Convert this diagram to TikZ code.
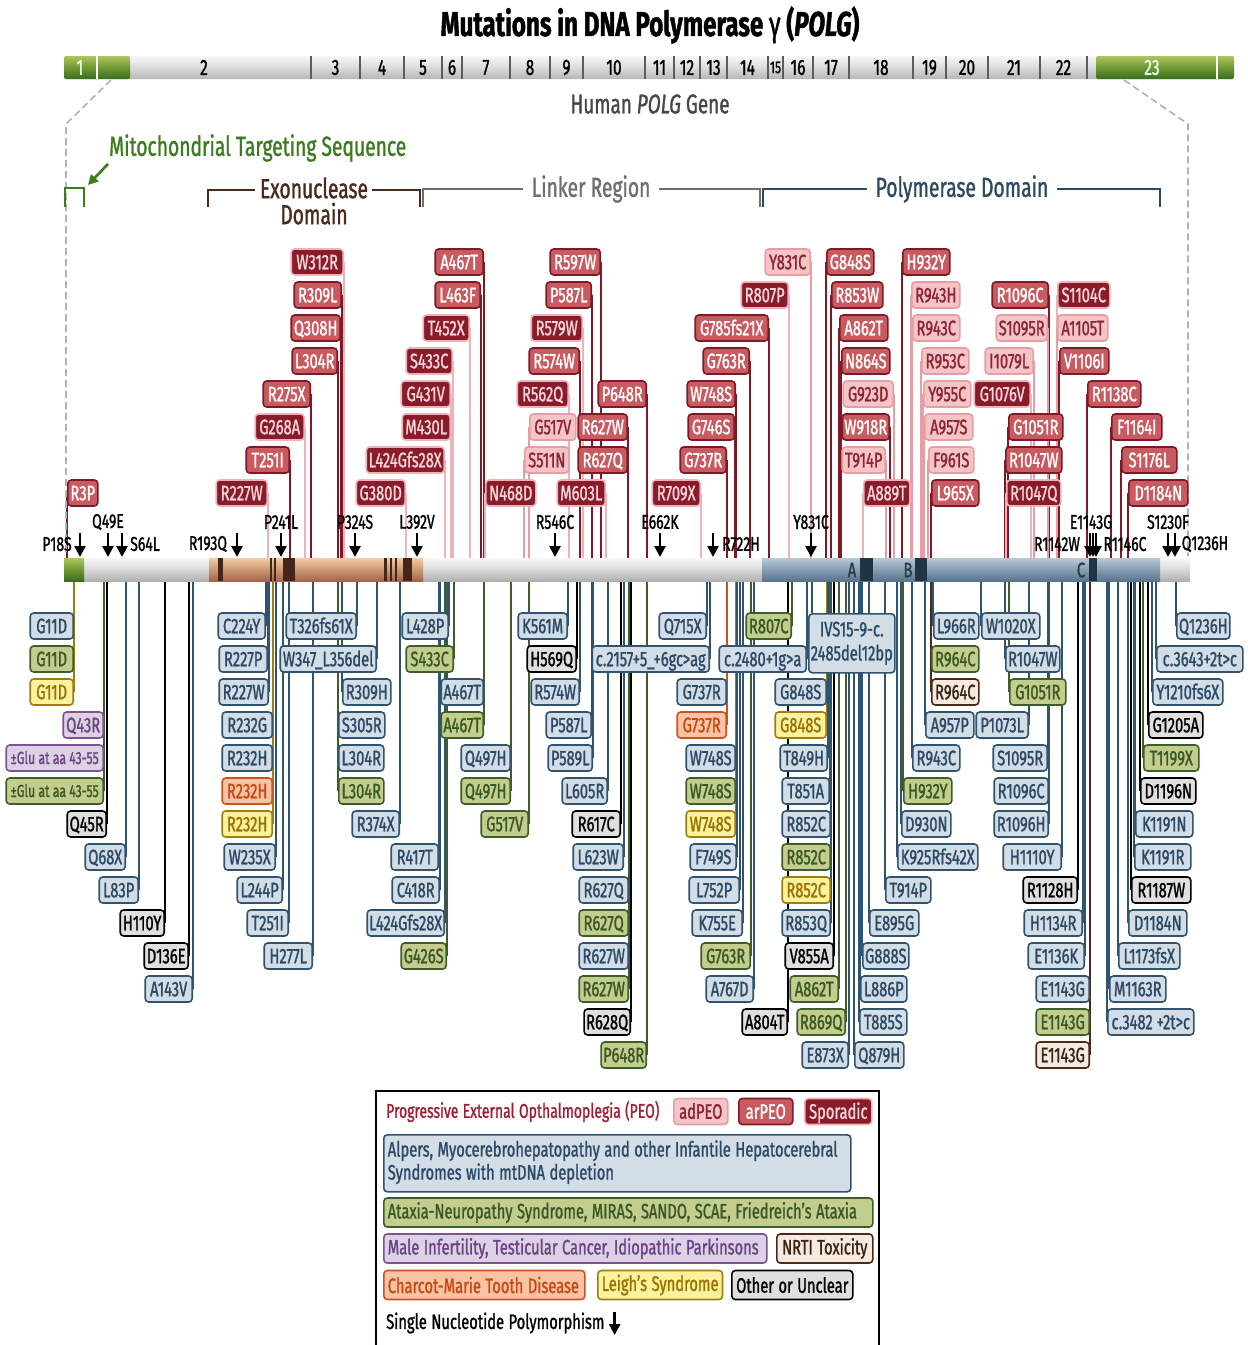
\documentclass[tikz,border=0pt]{standalone}
\usepackage{fontspec}
\setmainfont{Fira Sans}[FakeStretch=0.7, FakeBold=1.2]
\usetikzlibrary{arrows.meta}
\pgfdeclarelayer{bg}
\pgfsetlayers{bg,main}
\definecolor{adF}{HTML}{F4C4C6}\definecolor{adD}{HTML}{E59FA4}\definecolor{adT}{HTML}{8C2433}
\definecolor{arF}{HTML}{C95A5F}\definecolor{arD}{HTML}{7E1A28}
\definecolor{spF}{HTML}{8A1B2B}\definecolor{spD}{HTML}{EEB3B8}\definecolor{spT}{HTML}{F6D5D7}
\definecolor{alpF}{HTML}{D2DDE6}\definecolor{alpD}{HTML}{30536F}\definecolor{alpT}{HTML}{2C4A66}
\definecolor{atxF}{HTML}{C3CE8E}\definecolor{atxD}{HTML}{3D5E2B}\definecolor{atxT}{HTML}{3A5726}
\definecolor{malF}{HTML}{DDD2E5}\definecolor{malD}{HTML}{7C5393}\definecolor{malT}{HTML}{6C4485}
\definecolor{nrtF}{HTML}{F4EADF}\definecolor{nrtD}{HTML}{4B2A18}\definecolor{nrtT}{HTML}{3A2312}
\definecolor{cmtF}{HTML}{F9C4A6}\definecolor{cmtD}{HTML}{CB531C}\definecolor{cmtT}{HTML}{C64A12}
\definecolor{leiF}{HTML}{FBF29D}\definecolor{leiD}{HTML}{A07D12}\definecolor{leiT}{HTML}{9A7200}
\definecolor{othF}{HTML}{DFDFDF}
\definecolor{peoT}{HTML}{A01E32}
\definecolor{mtsG}{HTML}{3A7D1E}\definecolor{exoB}{HTML}{4A2A1C}\definecolor{lnkG}{HTML}{6E6E6E}\definecolor{polB}{HTML}{2E4A5E}
\definecolor{gT}{RGB}{172,198,92}\definecolor{gM}{RGB}{112,152,52}\definecolor{gB}{RGB}{58,108,30}
\newcommand\mylabfont{\fontsize{21}{22}\selectfont}
\newcommand\mylegfont{\fontsize{21}{24}\selectfont\fontdimen2\font=4.5pt\fontdimen3\font=0pt\fontdimen4\font=0pt}
\newcommand\mypeofont{\fontsize{20}{24}\selectfont\fontdimen2\font=4.3pt\fontdimen3\font=0pt\fontdimen4\font=0pt}
\tikzset{
 labbase/.style={rounded corners=3.5pt, line width=1.6pt, inner xsep=2pt, inner ysep=0pt},
 lab/.style={labbase, minimum height=26pt, font=\mylabfont, text height=14.5pt, text depth=0pt},
 boxpa/.style={lab, fill=adF, draw=adD, text=adT},
 boxpr/.style={lab, fill=arF, draw=arD, text=white},
 boxps/.style={lab, fill=spF, draw=spD, text=spT},
 boxalp/.style={lab, fill=alpF, draw=alpD, text=alpT},
 boxatx/.style={lab, fill=atxF, draw=atxD, text=atxT},
 boxmal/.style={lab, fill=malF, draw=malD, text=malT},
 boxnrt/.style={lab, fill=nrtF, draw=nrtD, text=nrtT},
 boxcmt/.style={lab, fill=cmtF, draw=cmtD, text=cmtT},
 boxlei/.style={lab, fill=leiF, draw=leiD, text=leiT},
 boxoth/.style={lab, fill=othF, draw=black, text=black},
 boxmalsm/.style={boxmal, font=\fontsize{17.5}{18}\selectfont, text height=12pt},
 boxatxsm/.style={boxatx, font=\fontsize{17.5}{18}\selectfont, text height=12pt},
 conn/.style={line width=1.6pt},
 linepa/.style={conn, draw=adD}, linepr/.style={conn, draw=arD}, lineps/.style={conn, draw=spD},
 linealp/.style={conn, draw=alpD}, lineatx/.style={conn, draw=atxD}, linemal/.style={conn, draw=malD},
 linenrt/.style={conn, draw=nrtD}, linecmt/.style={conn, draw=cmtD}, linelei/.style={conn, draw=leiD},
 lineoth/.style={conn, draw=black}, linemalsm/.style={linemal}, lineatxsm/.style={lineatx},
 snp/.style={line width=2.6pt, -{Triangle[width=11pt,length=11pt]}},
 snplab/.style={font=\fontsize{20}{20}\selectfont, inner sep=0pt},
 exlab/.style={font=\fontsize{22}{22}\selectfont, inner sep=0pt},
 domlab/.style={font=\fontsize{27.5}{27}\selectfont, inner xsep=8pt, inner ysep=1pt},
 legbox/.style={rounded corners=3.5pt, line width=1.6pt, font=\mylegfont, inner xsep=4pt, inner ysep=0pt, anchor=west},
 bracket/.style={line width=2.4pt},
 zoomdash/.style={draw=gray!60, line width=1.6pt, dash pattern=on 7pt off 4pt}
}
\begin{document}
\begin{tikzpicture}[x=1pt,y=-1pt]
\useasboundingbox (0,0) rectangle (1248,1345);
% title
\node[font=\fontsize{34.5}{34}\selectfont\bfseries] (title) at (650,25) {Mutations in DNA Polymerase \textmd{γ} (\textit{POLG})};
% gene bar
\shade[top color=gray!6, bottom color=gray!58, middle color=gray!28, rounded corners=2pt] (64,56) rectangle (1234,79);
\shade[top color=gT, bottom color=gB, middle color=gM, rounded corners=2pt] (64,56) rectangle (130,79);
\shade[top color=gT, bottom color=gB, middle color=gM, rounded corners=2pt] (1096,56) rectangle (1234,79);
\foreach \xx [count=\i] in {311,360,404,442,462,510,550,583,645,674,700,727,768,783,813,849,913,946,988,1040,1087}
  \draw[gray!30!black!75, line width=1.3pt] (\xx,56) -- (\xx,79);
\foreach \xx in {97,1217} \draw[white, line width=1.6pt] (\xx,56) -- (\xx,79);
\foreach \num/\xx [count=\i] in {2/204,3/335.5,4/382,5/423,6/452,7/486,8/530,9/566.5,10/614,11/659.5,12/687,13/713.5,14/747.5,16/798,17/831,18/881,19/929.5,20/967,21/1014,22/1063.5}
  \node[exlab] (ex\i) at (\xx,67.5) {\num};
\node[exlab, text=green!10!white] (exa) at (80,67.5) {1};
\node[exlab, text=green!10!white] (exb) at (1152,67.5) {23};
\node[exlab, font=\fontsize{17}{17}\selectfont] (exc) at (775.5,67.5) {15};
\node[font=\fontsize{27}{27}\selectfont, text=gray!55!black] (gene) at (650,104) {Human \textit{POLG} Gene};
% dashed zoom lines
\coordinate (dl1) at (111,80); \coordinate (dl2) at (66,124); \coordinate (dl3) at (66,556);
\coordinate (dr1) at (1124,80); \coordinate (dr2) at (1188,124); \coordinate (dr3) at (1188,556);
\draw[zoomdash] (dl1) -- (dl2) -- (dl3);
\draw[zoomdash] (dr1) -- (dr2) -- (dr3);
% domain labels and brackets
\node[domlab, text=mtsG, anchor=west, inner xsep=1pt] (mts) at (108,148) {Mitochondrial Targeting Sequence};
\coordinate (mtsa) at (65,207); \coordinate (mtsb) at (84,207); \coordinate (mtsp) at (88,185);
\draw[bracket, mtsG] (mtsa) |- (84,188) -- (mtsb);
\draw[mtsG, line width=2.6pt, -{Triangle[width=10pt,length=10pt]}] ([xshift=0pt,yshift=-1pt]mts.south west) -- (mtsp);
\node[domlab, text=exoB, align=center, font=\fontsize{27.5}{26}\selectfont] (exo) at (314,201) {Exonuclease\\Domain};
\coordinate (exa) at (208,207); \coordinate (exb) at (420,207);
\draw[bracket, exoB] (exa) |- (255,190); \draw[bracket, exoB] (exb) |- (372,190);
\node[domlab, text=lnkG] (lnk) at (591,189) {Linker Region};
\coordinate (lka) at (423,207); \coordinate (lkb) at (760,207);
\draw[bracket, lnkG] (lka) |- (lnk.west); \draw[bracket, lnkG] (lkb) |- (lnk.east);
\node[domlab, text=polB] (pol) at (962,189) {Polymerase Domain};
\coordinate (pda) at (763,207); \coordinate (pdb) at (1160,207);
\draw[bracket, polB] (pda) |- (pol.west); \draw[bracket, polB] (pdb) |- (pol.east);
% protein bar
\shade[top color=gray!6, bottom color=gray!62, middle color=gray!30] (84,558) rectangle (1190,581);
\shade[top color=gT, bottom color=gB, middle color=gM] (64,558) rectangle (84,581);
\shade[top color={rgb,255:red,242;green,204;blue,160}, middle color={rgb,255:red,219;green,160;blue,120}, bottom color={rgb,255:red,165;green,100;blue,75}] (209,558) rectangle (423,581);
\shade[top color={rgb,255:red,184;green,200;blue,214}, middle color={rgb,255:red,140;green,164;blue,184}, bottom color={rgb,255:red,88;green,116;blue,142}] (762,558) rectangle (1160,581);
\foreach \a/\b in {218/223,270/272,274/276,283/295,384/387,390/392,395/397,403/412}
  \fill[exoB!90!black] (\a,558) rectangle (\b,581);
\foreach \a/\b in {860/873,915/927,1089/1097}
  \fill[polB!70!black] (\a,558) rectangle (\b,581);
\node[font=\fontsize{21}{21}\selectfont, text=polB!80!black] (mA) at (852,570) {A};
\node[font=\fontsize{21}{21}\selectfont, text=polB!80!black] (mB) at (908,570) {B};
\node[font=\fontsize{21}{21}\selectfont, text=polB!80!black] (mC) at (1081,570) {C};
% upper PEO labels
\foreach \txt/\cat/\row/\xx/\anc/\ww [count=\i] in {
W312R/ps/0/344/east/52, R309L/pr/1/342/east/47, Q308H/pr/2/341/east/49, L304R/pr/3/338/east/45,
R275X/pr/4/311/east/47, G268A/ps/5/305/east/49, T251I/pr/6/290/east/43, R227W/ps/7/268/east/51,
R3P/pr/7/67/west/30, G380D/ps/7/406/east/49,
A467T/pr/0/484/east/48, L463F/pr/1/481/east/45, T452X/ps/2/470/east/46, S433C/ps/3/453/east/46,
G431V/ps/4/451/east/49, M430L/ps/5/451/east/48, L424Gfs28X/ps/6/445/east/78, N468D/ps/7/485/west/50,
R597W/pr/0/601/east/50, P587L/pr/1/592/east/45, R579W/ps/2/583/east/51, R574W/pr/3/580/east/50,
R562Q/ps/4/569/east/51, P648R/pr/4/647/east/48, G517V/pa/5/529/west/46, R627W/pr/5/628/east/49,
S511N/pa/6/524/west/44, R627Q/pr/6/628/east/49, M603L/ps/7/606/east/48, R709X/ps/7/701/east/48,
Y831C/pa/0/811/east/45, R807P/ps/1/789/east/47, G785fs21X/pr/2/769/east/73, G763R/pr/3/750/east/46,
W748S/pr/4/736/east/48, G746S/pr/5/735/east/46, G737R/pr/6/727/east/46,
G848S/pr/0/826/west/47, H932Y/pr/0/902/west/47, R853W/pr/1/831/west/51, R943H/pa/1/911/west/48,
R1096C/pr/1/1049/east/56, S1104C/ps/1/1057/west/52, A862T/pr/2/839/west/48, R943C/pa/2/912/west/47,
S1095R/pa/2/1048/east/51, A1105T/pa/2/1057/west/50, N864S/pr/3/841/west/48, R953C/pa/3/921/west/47,
I1079L/pa/3/1034/east/48, V1106I/pr/3/1059/west/49, G923D/pa/4/894/east/50, Y955C/pa/4/923/west/47,
G1076V/ps/4/1031/east/56, R1138C/pr/4/1087/west/53, W918R/pr/5/890/east/47, A957S/pa/5/924/west/48,
G1051R/pr/5/1008/west/54, F1164I/pr/5/1111/west/50, T914P/pa/6/886/east/43, F961S/pa/6/928/west/45,
R1047W/pr/6/1005/west/56, S1176L/pr/6/1121/west/55, A889T/ps/7/863/west/46, L965X/pr/7/931/west/47,
R1047Q/ps/7/1006/west/54, D1184N/pr/7/1128/west/59}
{
 \node[box\cat, minimum width=\ww, anchor=\anc] (u\i) at (\xx,{262+33*\row}) {\txt};
 \coordinate (ub\i) at (\xx,558);
 \begin{pgfonlayer}{bg}\draw[line\cat] (ub\i) -- (u\i.\anc);\end{pgfonlayer}
}
% lower labels
\foreach \txt/\cat/\row/\xx/\anc/\ww [count=\i] in {
G11D/alp/0/74/east/43, G11D/atx/1/74/east/43, G11D/lei/2/74/east/43, Q43R/mal/3/104/east/40,
±Glu at aa 43-55/malsm/4/104/east/97, ±Glu at aa 43-55/atxsm/5/104/east/97, Q45R/oth/6/107/east/39,
Q68X/alp/7/126/east/40, L83P/alp/8/139/east/39, H110Y/oth/9/165/east/44, D136E/oth/10/189/east/44,
A143V/alp/11/193/east/47,
C224Y/alp/0/266/east/47, R227P/alp/1/268/east/48, R227W/alp/2/269/east/49, R232G/alp/3/273/east/50,
R232H/alp/4/273/east/50, R232H/cmt/5/273/east/50, R232H/lei/6/273/east/50, W235X/alp/7/276/east/51,
L244P/alp/8/283/east/45, T251I/alp/9/289/east/41, H277L/alp/10/313/east/48,
T326fs61X/alp/0/357/east/70, W347\_L356del/alp/1/377/east/96, R309H/alp/2/342/west/48,
S305R/alp/3/338/west/46, L304R/alp/4/338/west/45, L304R/atx/5/338/west/45, R374X/alp/6/400/east/47,
R417T/alp/7/439/east/47, C418R/alp/8/440/east/47, L424Gfs28X/alp/9/445/east/77, G426S/atx/10/447/east/45,
L428P/alp/0/449/east/46, S433C/atx/1/454/east/47, A467T/alp/2/484/east/42, A467T/atx/3/484/east/42,
Q497H/alp/4/511/east/49, Q497H/atx/5/511/east/49, G517V/atx/6/529/east/47,
K561M/alp/0/568/east/49, H569Q/oth/1/577/east/49, R574W/alp/2/580/east/48, P587L/alp/3/592/east/45,
P589L/alp/4/593/east/44, L605R/alp/5/608/east/45, R617C/oth/6/621/east/48, L623W/alp/7/624/east/50,
R627Q/alp/8/629/east/49, R627Q/atx/9/629/east/49, R627W/alp/10/629/east/49, R627W/atx/11/629/east/49,
R628Q/oth/12/631/east/45, P648R/atx/13/647/east/45,
c.2157+5\_+6gc>ag/alp/1/710/east/117, Q715X/alp/0/707/east/47,
G737R/alp/2/727/east/49, G737R/cmt/3/727/east/49, W748S/alp/4/736/east/49, W748S/atx/5/736/east/49,
W748S/lei/6/736/east/49, F749S/alp/7/737/east/46, L752P/alp/8/740/east/50, K755E/alp/9/743/east/50,
G763R/atx/10/751/east/49, A767D/alp/11/754/east/47, A804T/oth/12/788/east/45,
R807C/atx/0/792/east/45, c.2480+1g>a/alp/1/807/east/87, G848S/alp/2/827/east/51, G848S/lei/3/827/east/51,
T849H/alp/4/828/east/47, T851A/alp/5/830/east/47, R852C/alp/6/831/east/48, R852C/atx/7/831/east/48,
R852C/lei/8/831/east/48, R853Q/alp/9/831/east/48, V855A/oth/10/834/east/48, A862T/atx/11/839/east/48,
R869Q/atx/12/846/east/48, E873X/alp/13/849/east/46,
Q879H/alp/13/854/west/49, T885S/alp/12/859/west/47, L886P/alp/11/860/west/46, G888S/alp/10/862/west/46,
E895G/alp/9/869/west/49, T914P/alp/8/885/west/45, K925Rfs42X/alp/7/897/west/80, D930N/alp/6/901/west/49,
H932Y/atx/5/903/west/48, R943C/alp/4/912/west/47, A957P/alp/3/925/west/48, R964C/atx/1/931/west/47,
R964C/nrt/2/931/west/47, L966R/alp/0/933/west/45,
W1020X/alp/0/981/west/58, R1047W/alp/1/1005/west/54, G1051R/atx/2/1009/west/56, P1073L/alp/3/1029/east/52,
S1095R/alp/4/1048/east/54, R1096C/alp/5/1049/east/54, R1096H/alp/6/1049/east/54, H1110Y/alp/7/1062/east/58,
R1128H/oth/8/1078/east/54, H1134R/alp/9/1083/east/58, E1136K/alp/10/1085/east/56,
E1143G/alp/11/1090/east/53, E1143G/atx/12/1090/east/53, E1143G/nrt/13/1090/east/53,
M1163R/alp/11/1109/west/56, c.3482 +2t>c/alp/12/1107/west/86, L1173fsX/alp/10/1118/west/61,
D1184N/alp/9/1128/west/58, R1187W/oth/8/1131/west/59, K1191R/alp/7/1134/west/56, K1191N/alp/6/1135/west/57,
D1196N/oth/5/1140/west/55, T1199X/atx/4/1143/west/55, G1205A/oth/3/1148/west/54,
Y1210fs6X/alp/2/1152/west/70, c.3643+2t>c/alp/1/1156/west/86, Q1236H/alp/0/1176/west/53}
{
 \node[box\cat, minimum width=\ww, anchor=\anc] (d\i) at (\xx,{626+33*\row}) {\txt};
 \coordinate (db\i) at (\xx,581);
 \begin{pgfonlayer}{bg}\draw[line\cat] (db\i) -- (d\i.\anc);\end{pgfonlayer}
}
\node[labbase, fill=alpF, draw=alpD, text=alpT, minimum width=86, minimum height=59, align=center, anchor=north west, font=\fontsize{21}{24}\selectfont] (ivs) at (808,613) {IVS15-9-c.\\2485del12bp};
\coordinate (ivsb) at (812,581);
\begin{pgfonlayer}{bg}\draw[linealp] (ivsb) -- (ivsb |- ivs.north);\end{pgfonlayer}
% SNP arrows
\foreach \xx [count=\i] in {80,108,122,237,281,355,417,555,660,713,811,1090,1093,1096,1168,1175}{
 \coordinate (sa\i) at (\xx,533); \coordinate (sb\i) at (\xx,557);
 \draw[snp] (sa\i) -- (sb\i);
}
\foreach \txt/\xx/\yy [count=\i] in {P18S/57/544, Q49E/108/522, S64L/145/544, R193Q/208/544, P241L/281/522,
 P324S/355/522, L392V/417/522, R546C/555/522, E662K/660/522, R722H/741/544, Y831C/811/522,
 E1143G/1091/522, R1142W/1057/544, R1146C/1125/544, S1230F/1168/522, Q1236H/1205/544}
 \node[snplab] (sl\i) at (\xx,\yy) {\txt};
% legend
\coordinate (lf1) at (376,1345); \coordinate (lf2) at (376,1091); \coordinate (lf3) at (879,1091); \coordinate (lf4) at (879,1345);
\draw[line width=1.5pt] (lf1) -- (lf2) -- (lf3) -- (lf4);
\node[anchor=west, inner sep=0pt, font=\mypeofont, text=peoT] (lgpeo) at (386,1111.5) {Progressive External Opthalmoplegia (PEO)};
\node[boxpa, minimum width=54, anchor=west] (lgad) at (673,1111.5) {adPEO};
\node[boxpr, minimum width=54, anchor=west] (lgar) at (738,1111.5) {arPEO};
\node[boxps, minimum width=67, anchor=west] (lgsp) at (804,1111.5) {Sporadic};
\node[legbox, fill=alpF, draw=alpD, text=alpT, minimum height=57, anchor=north west] (lgalp) at (383,1134) {\makebox[459pt][l]{\begin{tabular}{@{}l@{}}Alpers, Myocerebrohepatopathy and other Infantile Hepatocerebral\\[-1pt]Syndromes with mtDNA depletion\end{tabular}}};
\node[legbox, fill=atxF, draw=atxD, text=atxT, minimum height=29] (lgatx) at (383,1212.5) {\makebox[481pt][l]{Ataxia-Neuropathy Syndrome, MIRAS, SANDO, SCAE, Friedreich’s Ataxia}};
\node[legbox, fill=malF, draw=malD, text=malT, minimum height=29] (lgmal) at (383,1248.5) {\makebox[375pt][l]{Male Infertility, Testicular Cancer, Idiopathic Parkinsons}};
\node[legbox, fill=nrtF, draw=nrtD, text=nrtT, minimum height=29, minimum width=96] (lgnrt) at (776,1248.5) {NRTI Toxicity};
\node[legbox, fill=cmtF, draw=cmtD, text=cmtT, minimum height=29] (lgcmt) at (383,1285) {\makebox[193pt][l]{Charcot-Marie Tooth Disease}};
\node[legbox, fill=leiF, draw=leiD, text=leiT, minimum height=29, minimum width=121] (lglei) at (597,1285) {Leigh’s Syndrome};
\node[legbox, fill=othF, draw=black, text=black, minimum height=29, minimum width=121] (lgoth) at (731,1285) {Other or Unclear};
\node[anchor=west, inner sep=0pt, font=\mylegfont] (lgsnp) at (386,1323) {Single Nucleotide Polymorphism};
\coordinate (lgs1) at ([xshift=10pt,yshift=11pt]lgsnp.east); \coordinate (lgs2) at ([xshift=10pt,yshift=-12pt]lgsnp.east);
\draw[snp] (lgs1) -- (lgs2);
\end{tikzpicture}
\end{document}
